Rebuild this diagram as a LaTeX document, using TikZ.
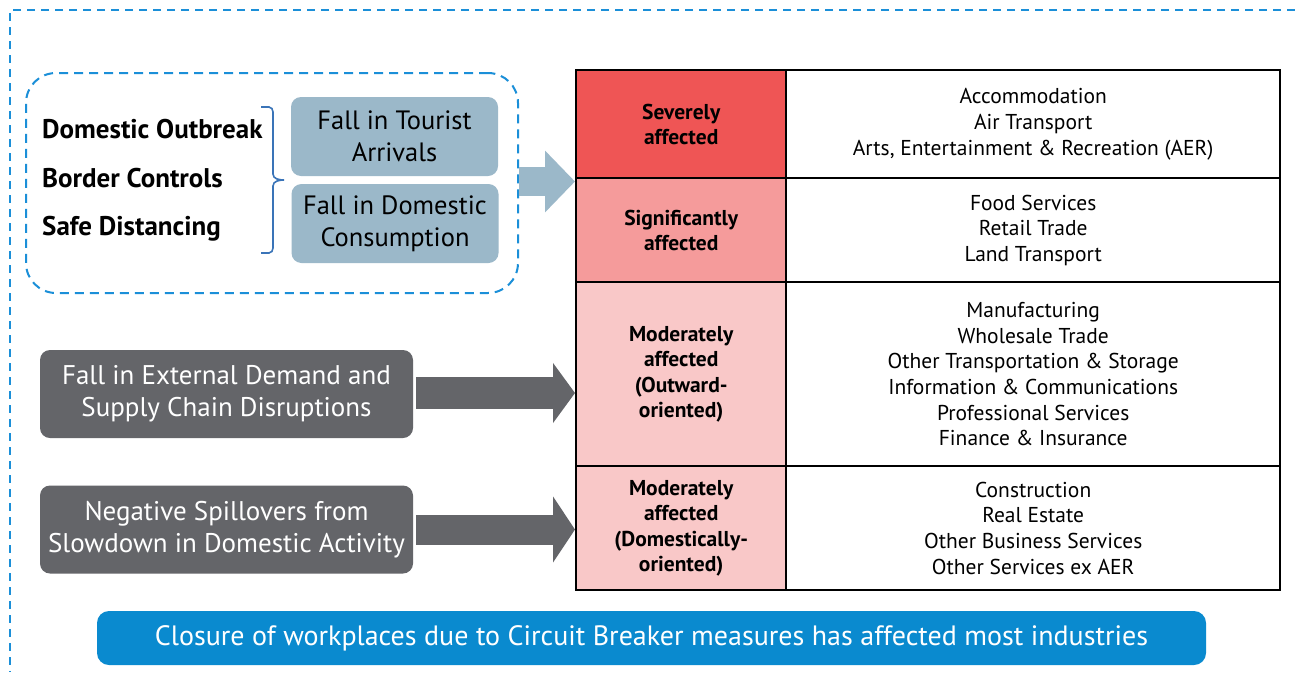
\documentclass[tikz,border=0pt]{standalone}
\usepackage{fontspec}
\setmainfont{PT Sans}
\usetikzlibrary{arrows.meta,calc}
\definecolor{dashblue}{HTML}{1B8FD8}
\definecolor{bracecol}{HTML}{3A74B8}
\definecolor{paleblue}{HTML}{9BB8C9}
\definecolor{darkgrey}{HTML}{646569}
\definecolor{barblue}{HTML}{0A8ACF}
\definecolor{sevred}{HTML}{EF5555}
\definecolor{sigred}{HTML}{F59B9B}
\definecolor{modred}{HTML}{F9C8C8}
\begin{document}
\begin{tikzpicture}[x=1pt,y=-1pt,
  frame/.style={dashblue,line width=2pt,dash pattern=on 8pt off 6pt},
  cause/.style={font=\fontsize{27}{30}\selectfont\bfseries,anchor=base west,inner sep=0pt},
  palebox/.style={fill=paleblue,rounded corners=10pt,minimum width=207pt,minimum height=79pt,
    align=center,font=\fontsize{26.5}{32}\selectfont,inner sep=0pt},
  greybox/.style={fill=darkgrey,rounded corners=10pt,minimum width=373pt,minimum height=88pt,
    align=center,text=white,font=\fontsize{27}{32}\selectfont,inner sep=0pt},
  cell/.style={draw=black,line width=2.4pt,anchor=north west,inner sep=0pt,align=center},
  lvl/.style={cell,minimum width=210pt,font=\fontsize{21.5}{25.3}\selectfont\bfseries},
  sect/.style={cell,minimum width=494pt,font=\fontsize{21.5}{25.7}\selectfont}
]
\useasboundingbox (0,0) rectangle (1295,672);
\fill[white] (0,0) rectangle (1295,672);

% outer dashed frame (top and left edges)
\draw[frame] (1295,10) -- (10,10) -- (10,672);

% grouped domestic causes
\node[draw=dashblue,line width=2pt,dash pattern=on 9pt off 6pt,rounded corners=30pt,
  minimum width=492pt,minimum height=220pt,anchor=north west,inner sep=0pt] (dom) at (25,72) {};
\node[cause] (c1) at (42,138) {Domestic Outbreak};
\node[cause] (c2) at (42,187) {Border Controls};
\node[cause] (c3) at (42,235) {Safe Distancing};
\draw[bracecol,line width=1.6pt] (261,107) -- (269,107) to[out=0,in=90] (273,112) -- (273,174)
  to[out=270,in=180] (284,180) to[out=180,in=90] (273,186) -- (273,248)
  to[out=270,in=0] (269,253) -- (261,253);
\node[palebox] (tour) at (394.5,136.5) {Fall in Tourist\\Arrivals};
\node[palebox] (cons) at (395,223.5) {Fall in Domestic\\Consumption};

% impact table
\node[lvl,fill=sevred,minimum height=108pt] (r1) at (575,69) {Severely\\affected};
\node[sect,minimum height=108pt] (s1) at (785,69) {Accommodation\\Air Transport\\Arts, Entertainment \& Recreation (AER)};
\node[lvl,fill=sigred,minimum height=104pt] (r2) at (575,177) {Significantly\\affected};
\node[sect,minimum height=104pt] (s2) at (785,177) {Food Services\\Retail Trade\\Land Transport};
\node[lvl,fill=modred,minimum height=184pt] (r3) at (575,281) {Moderately\\affected\\(Outward-\\oriented)};
\node[sect,minimum height=184pt] (s3) at (785,281) {Manufacturing\\Wholesale Trade\\Other Transportation \& Storage\\Information \& Communications\\Professional Services\\Finance \& Insurance};
\node[lvl,fill=modred,minimum height=124pt] (r4) at (575,465) {Moderately\\affected\\(Domestically-\\oriented)};
\node[sect,minimum height=124pt] (s4) at (785,465) {Construction\\Real Estate\\Other Business Services\\Other Services ex AER};

% external causes
\node[greybox] (ext) at (226.5,394) {Fall in External Demand and\\Supply Chain Disruptions};
\node[greybox] (spill) at (226.5,529.5) {Negative Spillovers from\\Slowdown in Domestic Activity};

% block arrows into the table
\draw[paleblue,line width=29pt,-{Triangle[length=30pt,width=60pt]}]
  ($(dom.east)+(0,-1.5)$) -- ($(dom.east -| r1.west)+(0,-1.5)$);
\draw[darkgrey,line width=32pt,-{Triangle[length=22pt,width=59pt]}]
  ($(ext.east)+(3,-1)$) -- ($(ext.east -| r3.west)+(0,-1)$);
\draw[darkgrey,line width=30pt,-{Triangle[length=22pt,width=65pt]}]
  ($(spill.east)+(3,0)$) -- (spill.east -| r4.west);

% bottom banner
\node[fill=barblue,rounded corners=12pt,minimum width=1109pt,minimum height=54pt,inner sep=0pt,
  text=white,font=\fontsize{28}{32}\selectfont] (bar) at (651.5,638)
  {Closure of workplaces due to Circuit Breaker measures has affected most industries};
\end{tikzpicture}
\end{document}
